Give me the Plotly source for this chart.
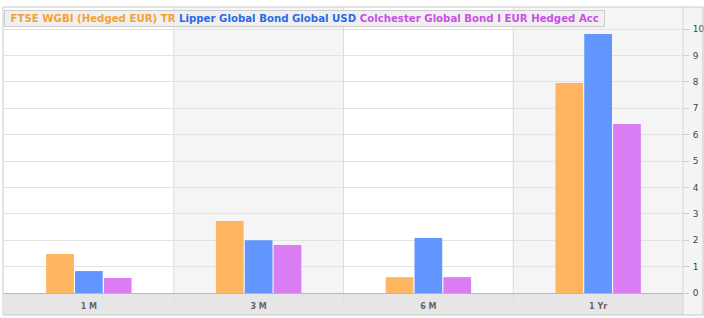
import plotly.graph_objects as go

categories = ["1 M", "3 M", "6 M", "1 Yr"]
series_names = ["FTSE WGBI (Hedged EUR) TR", "Lipper Global Bond Global USD",
                "Colchester Global Bond I EUR Hedged Acc"]
ftse = [1.48, 2.73, 0.60, 7.95]
lipper = [0.83, 2.00, 2.08, 9.81]
colchester = [0.57, 1.82, 0.60, 6.40]
y_ticks = list(range(0, 11))

bar_colors = ["#ffb55f", "#6096fd", "#da7df5"]
legend_colors = ["#f5a033", "#2a6ae8", "#cc4ee8"]

W, H = 704, 318
ml, mr, mt, mb = 4, 21, 7, 25
pw, ph = W - ml - mr, H - mt - mb

fig = go.Figure()
for name, vals, col in zip(series_names, [ftse, lipper, colchester], bar_colors):
    fig.add_trace(go.Bar(x=list(range(len(categories))), y=vals, name=name,
                         marker=dict(color=col, line=dict(width=0)), showlegend=False))

shapes = []
for i in range(len(categories)):
    shapes.append(dict(type="rect", xref="x", yref="paper", x0=i - 0.5, x1=i + 0.5,
                       y0=0, y1=1, fillcolor="#ffffff" if i % 2 == 0 else "#f5f5f5",
                       line=dict(width=0), layer="below"))
shapes.append(dict(type="rect", xref="paper", yref="paper", x0=0, x1=1,
                   y0=-22 / ph, y1=0, fillcolor="#e6e6e6", line=dict(width=0), layer="below"))
shapes.append(dict(type="rect", xref="paper", yref="paper", x0=1, x1=1 + mr / pw,
                   y0=-22 / ph, y1=1, fillcolor="#f4f4f4", line=dict(width=0), layer="below"))
for i in range(1, len(categories)):
    shapes.append(dict(type="line", xref="x", yref="paper", x0=i - 0.5, x1=i - 0.5,
                       y0=-8 / ph, y1=1, line=dict(color="#dcdcdc", width=1), layer="below"))
shapes.append(dict(type="line", xref="paper", yref="paper", x0=1, x1=1,
                   y0=-22 / ph, y1=1, line=dict(color="#d4d4d4", width=1), layer="above"))
shapes.append(dict(type="rect", xref="paper", yref="paper", x0=-1 / pw, x1=1 + (mr - 1) / pw,
                   y0=-22 / ph, y1=1, line=dict(color="#c8c8c8", width=1), layer="above"))

legend_text = "<b> " + " ".join(
    f"<span style='color:{c}'>{n}</span>" for n, c in zip(series_names, legend_colors)) + " </b>"

fig.update_layout(
    width=W, height=H,
    margin=dict(l=ml, r=mr, t=mt, b=mb, autoexpand=False),
    paper_bgcolor="#ffffff", plot_bgcolor="rgba(0,0,0,0)",
    barmode="group", bargap=0.49, bargroupgap=0.04,
    shapes=shapes,
    annotations=[dict(text=legend_text, xref="paper", yref="paper", x=0, y=1 - 3 / ph,
                      xanchor="left", yanchor="top", showarrow=False,
                      bgcolor="#f0f0f0", bordercolor="#cccccc", borderwidth=1, borderpad=2,
                      font=dict(family="DejaVu Sans", size=10.2))],
    xaxis=dict(tickmode="array", tickvals=list(range(len(categories))), ticktext=categories,
               range=[-0.5, len(categories) - 0.5], showgrid=False, zeroline=False,
               ticks="", ticklen=0, ticklabelstandoff=7, automargin=False,
               tickfont=dict(family="DejaVu Sans", size=8, color="#666666", weight="bold"),
               showline=False),
    yaxis=dict(side="right", range=[0, 10 + 22 / 26.4], tickvals=y_ticks, automargin=False,
               showgrid=True, gridcolor="#e2e2e2", gridwidth=1,
               zeroline=True, zerolinecolor="#b8b8b8", zerolinewidth=1,
               ticks="outside", ticklen=5, tickcolor="#cccccc", ticklabelstandoff=2,
               tickfont=dict(family="DejaVu Sans", size=9, color="#444444"), showline=False),
    font=dict(family="DejaVu Sans"),
)

fig.write_html("out.html", config={"displayModeBar": False},
               post_script="document.body.style.margin='0';")
